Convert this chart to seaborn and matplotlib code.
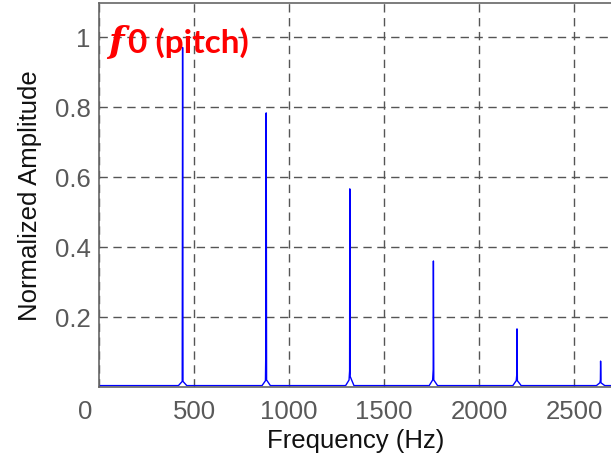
import matplotlib
matplotlib.use("Agg")
import matplotlib.pyplot as plt
import matplotlib.transforms as mtransforms
import seaborn as sns
import pandas as pd

# Magnitude spectrum of a 440 Hz tone and its harmonics (normalized)
freq_hz = [0, 418, 438, 440, 442, 462,
           858, 876, 878, 880, 882, 902,
           1298, 1316, 1319, 1320, 1322, 1342,
           1738, 1756, 1759, 1760, 1762, 1782,
           2178, 2196, 2199, 2200, 2202, 2222,
           2618, 2636, 2639, 2640, 2642, 2662,
           2750]
amplitude = [0.004, 0.004, 0.016, 0.97, 0.016, 0.004,
             0.004, 0.018, 0.105, 0.783, 0.02, 0.004,
             0.004, 0.02, 0.046, 0.566, 0.03, 0.004,
             0.004, 0.02, 0.05, 0.36, 0.02, 0.004,
             0.004, 0.018, 0.037, 0.166, 0.018, 0.004,
             0.004, 0.012, 0.02, 0.074, 0.012, 0.004,
             0.004]

x_ticks = [0, 500, 1000, 1500, 2000, 2500]
x_tick_labels = ["0", "500", "1000", "1500", "2000", "2500"]
y_ticks = [0.2, 0.4, 0.6, 0.8, 1.0]
y_tick_labels = ["0.2", "0.4", "0.6", "0.8", "1"]

spectrum = pd.DataFrame({"Frequency (Hz)": freq_hz, "Normalized Amplitude": amplitude})

sns.set_style("white")
plt.rcParams["font.family"] = ["Liberation Sans", "DejaVu Sans"]

fig = plt.figure(figsize=(6.11, 4.6), dpi=100)
ax = fig.add_axes([99 / 611, 72 / 460, 513 / 611, 384 / 460])

sns.lineplot(data=spectrum, x="Frequency (Hz)", y="Normalized Amplitude",
             color="#0000ff", linewidth=1.0, ax=ax, estimator=None, sort=False)

ax.set_xlim(0, 2700)
ax.set_ylim(0, 1.097)
ax.set_xticks(x_ticks)
ax.set_xticklabels(x_tick_labels)
ax.set_yticks(y_ticks)
ax.set_yticklabels(y_tick_labels)

ax.grid(True, color="#555555", linestyle=(0, (6, 4)), linewidth=1.0)
ax.set_axisbelow(True)

for side in ["left", "top", "bottom"]:
    ax.spines[side].set_visible(True)
    ax.spines[side].set_color("#666666")
    ax.spines[side].set_linewidth(1.2)
ax.spines["right"].set_visible(False)

ax.tick_params(axis="both", direction="in", length=3, width=0.8, color="#666666",
               labelsize=18.5, labelcolor="#595959")
ax.tick_params(axis="x", pad=9)
ax.tick_params(axis="y", pad=6)

# the "0" label sits a little left of the axis origin
first = ax.get_xticklabels()[0]
first.set_transform(first.get_transform() +
                    mtransforms.ScaledTranslation(-14 / 100, 0, fig.dpi_scale_trans))

ax.set_xlabel("Frequency (Hz)", fontsize=18.5, color="#111111", labelpad=3)
ax.set_ylabel("Normalized Amplitude", fontsize=18.5, color="#111111", labelpad=9)

fig.text(108 / 611, 1 - 52 / 460, "f", color="#ff0000", fontsize=26,
         fontweight="bold", fontstyle="italic", family=["DejaVu Serif"],
         va="baseline", ha="left")
fig.text(128 / 611, 1 - 53 / 460, "0 (pitch)", color="#ff0000", fontsize=24,
         fontweight="bold", family=["Lato", "DejaVu Sans"], va="baseline", ha="left")

fig.savefig("out.png", dpi=100)
